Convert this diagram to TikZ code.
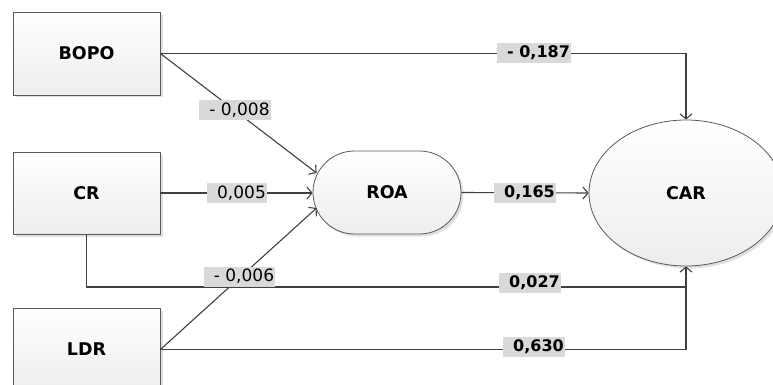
\documentclass[tikz,border=0pt]{standalone}
\usepackage{fontspec}
\setmainfont{DejaVu Sans}
\usetikzlibrary{arrows.meta,shapes.geometric,calc,shadows}
\begin{document}
\begin{tikzpicture}[x=1pt,y=1pt,
  shapebase/.style={draw=black!65, line width=0.8pt, top color=white, bottom color=black!7,
    inner sep=0pt, font=\fontsize{17.5}{20}\selectfont\bfseries,
    drop shadow={shadow xshift=2.5pt, shadow yshift=-2.5pt, fill=black!12, opacity=1}},
  varbox/.style={shapebase, rectangle, minimum width=147pt, minimum height=83pt},
  medbox/.style={shapebase, rectangle, rounded corners=41.5pt, minimum width=148pt, minimum height=83pt},
  depell/.style={shapebase, ellipse, minimum width=194pt, minimum height=146pt},
  conn/.style={draw=black!75, line width=1.1pt},
  arr/.style={conn, -{Straight Barb[length=5pt,width=12pt,line width=1.1pt]}},
  lbl/.style={fill=black!15, inner xsep=1pt, inner ysep=0pt, minimum height=20pt,
    font=\fontsize{17}{20}\selectfont},
  lblb/.style={lbl, font=\fontsize{16}{20}\selectfont\bfseries}
]
\useasboundingbox (0,0) rectangle (773,-385);
\clip (0,0) rectangle (773,-385);

\node[varbox] (BOPO) at (86.5,-53.5) {BOPO};
\node[varbox, minimum height=82pt] (CR) at (86.5,-193) {CR};
\node[varbox] (LDR) at (86.5,-349.5) {LDR};
\node[medbox] (ROA) at (387,-192.5) {ROA};
\node[depell] (CAR) at (686,-193) {CAR};

\coordinate (tipA) at ($(ROA.west)+(4,19.5)$);
\coordinate (tipB) at ($(ROA.west)+(4,-15.5)$);
\coordinate (lvl) at (0,-287);

% connectors
\draw[arr] (BOPO.east) -| (CAR.north);
\draw[arr] (BOPO.east) -- (tipA);
\draw[arr] (CR.east) -- (CR.east -| ROA.west);
\draw[arr] (LDR.east) -- (tipB);
\draw[arr] (ROA.east) -- (CAR.west);
\draw[conn] (CR.south) |- (CAR.south |- lvl);
\draw[arr] (LDR.east) -| (CAR.south);

% labels
\node[lbl] (l1) at (235,-110.5) {\hspace*{9pt}- 0,008};
\node[lbl] (l2) at (237,-193) {\hspace*{9pt}0,005};
\node[lbl] (l3) at (239.5,-276.5) {\hspace*{9pt}- 0,006};
\node[lblb] (l4) at (534,-53) {\hspace*{9pt}- 0,187};
\node[lblb] (l5) at (525,-193) {\hspace*{9pt}0,165};
\node[lblb] (l6) at (530,-283) {\hspace*{9pt}0,027};
\node[lblb] (l7) at (534,-347) {\hspace*{9pt}0,630};
\end{tikzpicture}
\end{document}
